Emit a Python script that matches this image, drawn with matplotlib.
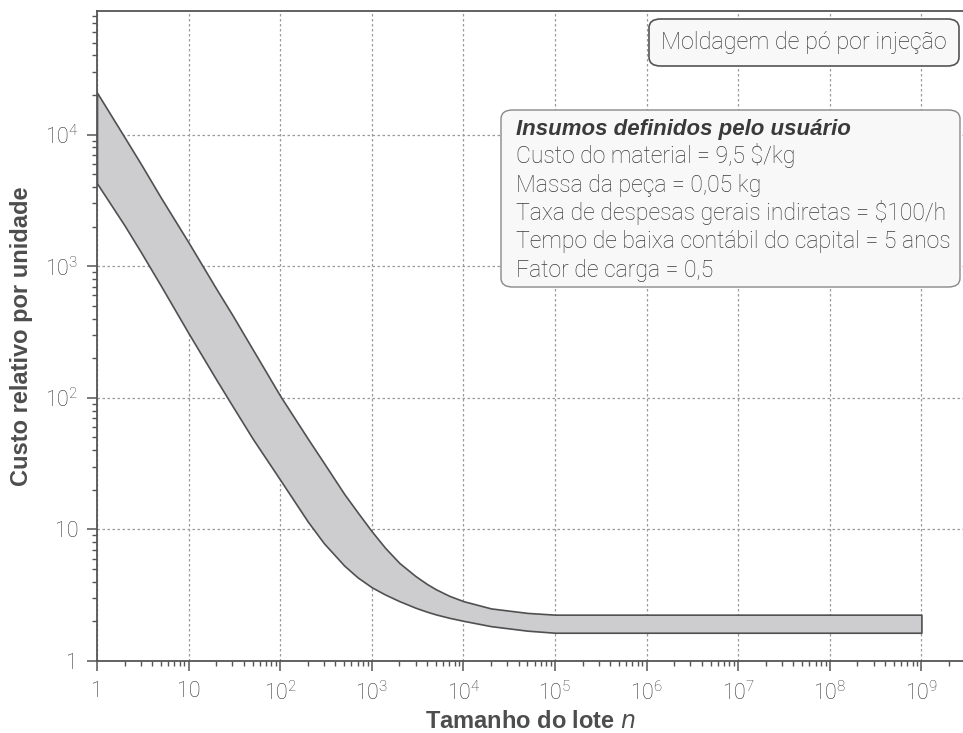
import math
import matplotlib
matplotlib.use('Agg')
import matplotlib.pyplot as plt
from matplotlib.patches import FancyBboxPatch
from matplotlib.ticker import LogLocator, FuncFormatter, NullFormatter

# Dados (tamanho do lote e faixa de custo relativo)
lote = [1, 2, 3, 5, 10, 20, 30, 50, 100, 200, 300, 500, 700, 1e3, 1400, 2e3,
        3e3, 4e3, 5e3, 7e3, 1e4, 2e4, 5e4, 1e5, 1e9]
custo_sup = [20893, 9550, 6026, 3311, 1514, 676, 427, 234, 103.5, 49.0, 32.0,
             18.6, 13.49, 9.66, 7.24, 5.56, 4.42, 3.85, 3.51, 3.13, 2.85,
             2.51, 2.32, 2.25, 2.25]
custo_inf = [4266, 2042, 1288, 708, 309, 138, 87.1, 49.0, 23.8, 11.48, 7.85,
             5.31, 4.32, 3.63, 3.20, 2.85, 2.54, 2.37, 2.26, 2.13, 2.02,
             1.84, 1.70, 1.64, 1.64]

titulo_processo = 'Moldagem de pó por injeção'
titulo_insumos = 'Insumos definidos pelo usuário'
insumos = [
    'Custo do material = 9,5 \\$/kg',
    'Massa da peça = 0,05 kg',
    'Taxa de despesas gerais indiretas = \\$100/h',
    'Tempo de baixa contábil do capital = 5 anos',
    'Fator de carga = 0,5',
]

LEVE = ['Roboto', 'DejaVu Sans']
NEGRITO = ['Liberation Sans', 'DejaVu Sans']
CINZA = '#3a3a3a'
W, H = 963, 733

plt.rcParams['font.family'] = LEVE
plt.rcParams['mathtext.default'] = 'regular'

fig = plt.figure(figsize=(W / 100, H / 100), dpi=100)
ax = fig.add_axes([97 / W, 72 / H, (W - 97) / W, 650 / H])

ax.fill_between(lote, custo_inf, custo_sup, facecolor='#cdcdcf',
                edgecolor='#505050', linewidth=1.2, zorder=2)

ax.set_xscale('log')
ax.set_yscale('log')
ax.set_xlim(1, 10 ** 9.454)
ax.set_ylim(1, 10 ** 4.94)


def rotulo(v, pos):
    if v < 0.99:
        return ''
    k = int(round(math.log10(v)))
    if k == 0:
        return '1'
    if k == 1:
        return '10'
    return r'$\mathregular{10^{%d}}$' % k


for eixo in (ax.xaxis, ax.yaxis):
    eixo.set_major_locator(LogLocator(base=10, numticks=20))
    eixo.set_minor_locator(LogLocator(base=10, subs=range(2, 10), numticks=20))
    eixo.set_major_formatter(FuncFormatter(rotulo))
    eixo.set_minor_formatter(NullFormatter())

ax.tick_params(which='major', direction='out', length=7.5, width=1.1,
               color='#555555', labelsize=15.5, labelcolor='#333333')
ax.tick_params(which='minor', direction='out', length=3.8, width=1.0,
               color='#555555')
ax.tick_params(axis='x', which='major', pad=7)
ax.tick_params(axis='y', which='major', pad=6)
for lab in ax.get_xticklabels() + ax.get_yticklabels():
    lab.set_fontweight('light')

ax.grid(True, which='major', linestyle=(0, (2, 2)), linewidth=0.9,
        color='#9a9a9a')
ax.set_axisbelow(True)

for s in ('left', 'bottom', 'top'):
    ax.spines[s].set_color('#555555')
    ax.spines[s].set_linewidth(1.3)
ax.spines['right'].set_visible(False)

ax.set_xlabel(r'Tamanho do lote $\mathregular{\it{n}}$', fontsize=17,
              fontweight='bold', color='#4d4d4d', family=NEGRITO)
ax.set_ylabel('Custo relativo por unidade', fontsize=17, fontweight='bold',
              color='#4d4d4d', family=NEGRITO)
ax.xaxis.set_label_coords(0.5, -0.076)
ax.yaxis.set_label_coords(-0.074, 0.5)


def fx(px):
    return px / W


def fy(py):
    return 1 - py / H


# Caixa do processo
fig.patches.append(FancyBboxPatch((fx(649), fy(66)), fx(959) - fx(649),
                                  fy(19) - fy(66),
                                  boxstyle='round,pad=0,rounding_size=0.012',
                                  transform=fig.transFigure, facecolor='#f7f8f7',
                                  edgecolor='#555555', linewidth=1.2))
fig.text(fx(804), fy(43), titulo_processo, ha='center', va='center',
         fontsize=16.8, fontweight='light', color=CINZA)

# Caixa dos insumos
fig.patches.append(FancyBboxPatch((fx(501), fy(287)), fx(960) - fx(501),
                                  fy(110) - fy(287),
                                  boxstyle='round,pad=0,rounding_size=0.012',
                                  transform=fig.transFigure, facecolor='#f7f8f7',
                                  edgecolor='#888888', linewidth=1.0))
fig.text(fx(516), fy(135), titulo_insumos, ha='left', va='baseline',
         fontsize=16, fontweight='bold', fontstyle='italic', color=CINZA,
         family=NEGRITO)
for i, linha in enumerate(insumos):
    fig.text(fx(516), fy(135 + 28.3 * (i + 1)), linha, ha='left',
             va='baseline', fontsize=16.6, fontweight='light', color=CINZA)

fig.savefig('out.png', dpi=100)
